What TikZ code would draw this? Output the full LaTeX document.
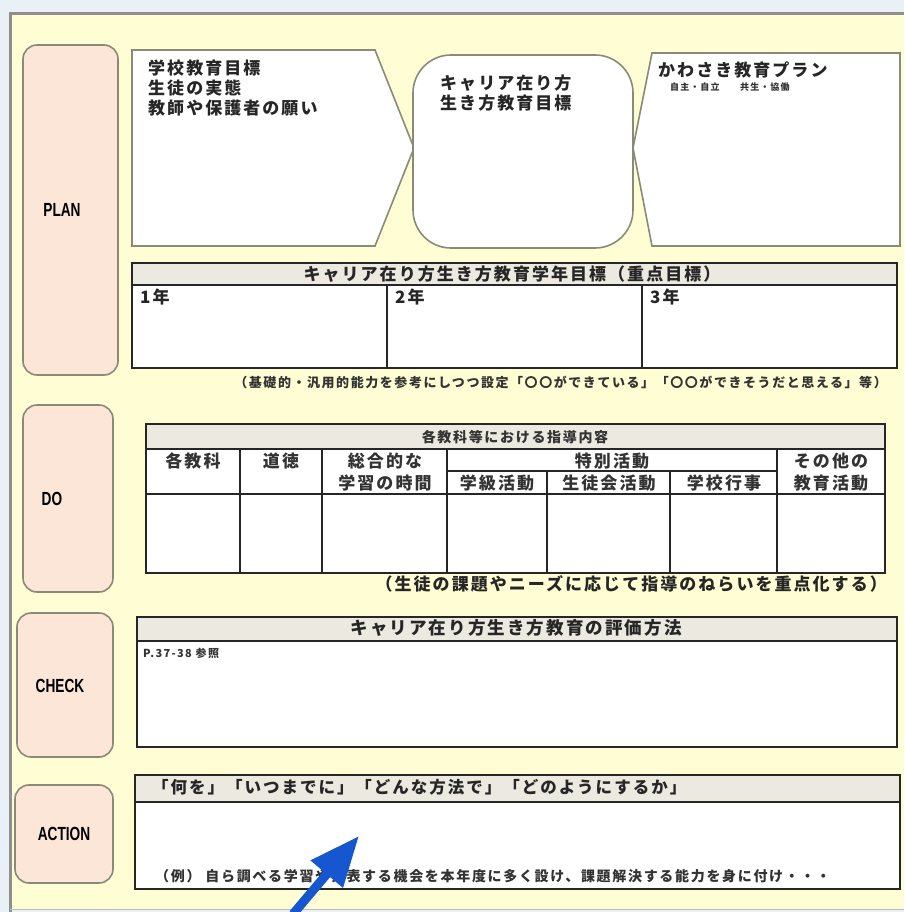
\documentclass[tikz,border=0pt]{standalone}
\usepackage{graphicx}
\usepackage{fontspec}
\setmainfont{Noto Sans CJK JP}[LetterSpace=12]
\newfontfamily\lat{Liberation Sans}
\usetikzlibrary{arrows.meta}
\definecolor{bgblue}{HTML}{E9F1F7}
\definecolor{ybg}{HTML}{FFFDD3}
\definecolor{peach}{HTML}{FBE6D8}
\definecolor{hdr}{HTML}{ECE9E1}
\definecolor{olive}{HTML}{8A8A78}
\definecolor{framegray}{HTML}{8F8F8F}
\definecolor{arrblue}{HTML}{1656CF}
\newcommand\fsz[1]{\fontsize{#1}{#1}\selectfont}
\newcommand\phlabel[1]{{\lat\bfseries\fsz{19}\scalebox{0.72}[1]{#1}}}
\begin{document}
\begin{tikzpicture}[x=1pt,y=-1pt,
  phase/.style={draw=olive, line width=1.6, fill=peach, rounded corners=14},
  shapebox/.style={draw=olive, line width=1.6, fill=white},
  tbl/.style={draw=black!85, line width=1.8},
  hdrfill/.style={fill=hdr},
  jt/.style={inner sep=0, font=\bfseries\fsz{17}, text=black!85},
  jtb/.style={inner sep=0, font=\bfseries\fsz{17}, text=black!80, align=center},
  small/.style={inner sep=0, font=\bfseries\fsz{13}, text=black!80},
  tiny/.style={inner sep=0, font=\bfseries\fsz{9}, text=black!80}]
\useasboundingbox (0,0) rectangle (904,912);
% background and frame
\fill[bgblue] (0,0) rectangle (904,912);
\fill[ybg] (10,13) rectangle (904,909);
\draw[framegray, line width=3] (10,912) -- (10,14) -- (904,14);
\draw[framegray!60, line width=1] (10,909) -- (904,909);

% phase boxes
\draw[phase] (23,45) rectangle (118,375);
\draw[phase] (23,405) rectangle (113,592);
\draw[phase] (17,613) rectangle (113,757);
\draw[phase] (15,785) rectangle (113,883);
\node (plan) at (62,210) {\phlabel{PLAN}};
\node (do) at (52,499) {\phlabel{DO}};
\node (check) at (60,686) {\phlabel{CHECK}};
\node (action) at (64,834) {\phlabel{ACTION}};

% PLAN top shapes
\draw[shapebox] (132,50) -- (375,50) -- (414,148) -- (375,246) -- (132,246) -- cycle;
\draw[shapebox, rounded corners=38] (413,55) rectangle (633,248);
\draw[shapebox] (652,53) -- (900,53) -- (900,246) -- (652,246) -- (633,148) -- cycle;
\node[jt, anchor=west] (t1) at (148,68) {学校教育目標};
\node[jt, anchor=west] (t2) at (148,88) {生徒の実態};
\node[jt, anchor=west] (t3) at (148,108) {教師や保護者の願い};
\node[jt, anchor=west] (c1) at (440,83) {キャリア在り方};
\node[jt, anchor=west] (c2) at (440,103) {生き方教育目標};
\node[jt, anchor=west] (k1) at (658,70) {かわさき教育プラン};
\node[tiny, anchor=west] (k2) at (670,87) {自主・自立};
\node[tiny, anchor=west] (k3) at (740,87) {共生・協働};

% year goal table
\fill[white] (132,263) rectangle (897,368);
\fill[hdr] (132,263) rectangle (897,285);
\draw[tbl] (132,263) rectangle (897,368);
\draw[tbl] (132,285) -- (897,285);
\draw[tbl] (387,285) -- (387,368);
\draw[tbl] (642,285) -- (642,368);
\node[jt] (yh) at (512,274) {キャリア在り方生き方教育学年目標（重点目標）};
\node[jt, anchor=west] (y1) at (140,297) {1年};
\node[jt, anchor=west] (y2) at (395,297) {2年};
\node[jt, anchor=west] (y3) at (650,297) {3年};
\node[small, anchor=east] (ynote) at (887,382) {（基礎的・汎用的能力を参考にしつつ設定「〇〇ができている」「〇〇ができそうだと思える」等）};

% DO table
\fill[white] (146,424) rectangle (885,573);
\fill[hdr] (146,424) rectangle (885,449);
\draw[tbl] (146,424) rectangle (885,573);
\draw[tbl] (146,449) -- (885,449);
\draw[tbl] (146,494) -- (885,494);
\draw[tbl] (447,471) -- (777,471);
\foreach \xx in {240,322,447,777} \draw[tbl] (\xx,449) -- (\xx,573);
\foreach \xx in {547,670} \draw[tbl] (\xx,471) -- (\xx,573);
\node[small, font=\bfseries\fsz{14}] (dh) at (515,437) {各教科等における指導内容};
\node[jtb] (d1) at (193,461) {各教科};
\node[jtb] (d2) at (281,461) {道徳};
\node[jtb] (d3) at (385,461) {総合的な};
\node[jtb] (d3b) at (385,483) {学習の時間};
\node[jtb] (d4) at (612,461) {特別活動};
\node[jtb] (d4a) at (497,483) {学級活動};
\node[jtb] (d4b) at (609,483) {生徒会活動};
\node[jtb] (d4c) at (724,483) {学校行事};
\node[jtb] (d5) at (831,461) {その他の};
\node[jtb] (d5b) at (831,483) {教育活動};
\node[jt, anchor=east] (dnote) at (887,584) {（生徒の課題やニーズに応じて指導のねらいを重点化する）};

% CHECK table
\fill[white] (137,617) rectangle (897,747);
\fill[hdr] (137,617) rectangle (897,641);
\draw[tbl] (137,617) rectangle (897,747);
\draw[tbl] (137,641) -- (897,641);
\node[jt, font=\bfseries\fsz{17.5}] (ch) at (516,628) {キャリア在り方生き方教育の評価方法};
\node[tiny, font=\bfseries\fsz{11}, anchor=west] (cref) at (143,653) {P.37-38 参照};

% ACTION table
\fill[white] (135,775) rectangle (900,889);
\fill[hdr] (135,775) rectangle (900,802);
\draw[tbl] (135,775) rectangle (900,889);
\draw[tbl] (135,802) -- (900,802);
\node[jt, font=\bfseries\fsz{16.5}, anchor=west] (ah) at (152,787) {「何を」「いつまでに」「どんな方法で」「どのようにするか」};
\node[small, font=\bfseries\fsz{14}, anchor=west] (aex) at (155,876) {（例） 自ら調べる学習や発表する機会を本年度に多く設け、課題解決する能力を身に付け・・・};

% blue arrow
\coordinate (arrtail) at (293,914);
\coordinate (arrtip) at (359,836);
\draw[arrblue, line width=9, -{Triangle[length=50,width=40]}] (arrtail) -- (arrtip);
\end{tikzpicture}
\end{document}
